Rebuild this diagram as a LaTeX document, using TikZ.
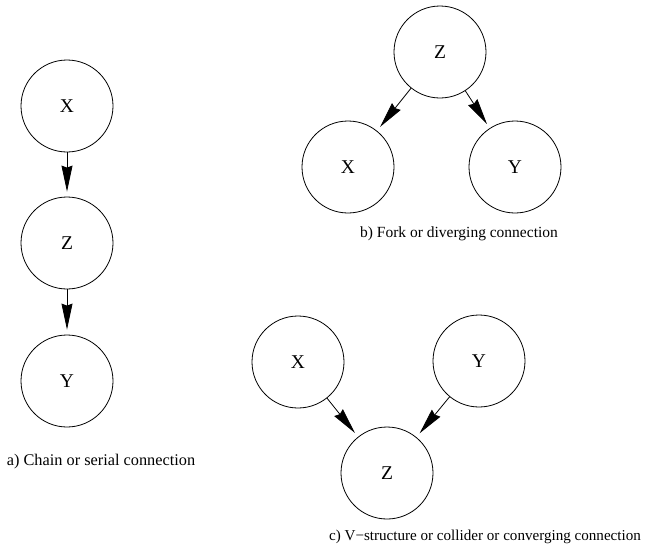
\documentclass[tikz,border=0pt]{standalone}
\usepackage{fontspec}
\setmainfont{Liberation Serif}
\usetikzlibrary{arrows.meta}

\begin{document}
\begin{tikzpicture}[x=1pt, y=-1pt,
    var/.style={draw, circle, line width=0.8pt, minimum size=92pt, inner sep=0pt,
      font=\fontsize{19.5}{20}\selectfont},
    caption/.style={font=\fontsize{#1}{18}\selectfont},
    edge/.style={-{Stealth[length=26pt, width=11pt, inset=2pt]}, line width=0.8pt, shorten >=5pt}]
  \useasboundingbox (0,0) rectangle (647,550);

  % a) chain
  \node[var] (chainX) at (67,106) {X};
  \node[var] (chainZ) at (67,243) {Z};
  \node[var] (chainY) at (67,381) {Y};
  \draw[edge] (chainX) -- (chainZ);
  \draw[edge] (chainZ) -- (chainY);
  \node[caption=16.3] (capA) at (101,462) {a) Chain or serial connection};

  % b) fork
  \node[var] (forkZ) at (440,52) {Z};
  \node[var] (forkX) at (348,167) {X};
  \node[var] (forkY) at (515,167) {Y};
  \draw[edge] (forkZ) -- (forkX);
  \draw[edge] (forkZ) -- (forkY);
  \node[caption=15.5] (capB) at (459,234) {b) Fork or diverging connection};

  % c) collider
  \node[var] (vX) at (298,362) {X};
  \node[var] (vY) at (479,361) {Y};
  \node[var] (vZ) at (387,473) {Z};
  \draw[edge] (vX) -- (vZ);
  \draw[edge] (vY) -- (vZ);
  \node[caption=15.1] (capC) at (485,537) {c) V−structure or collider or converging connection};
\end{tikzpicture}
\end{document}
